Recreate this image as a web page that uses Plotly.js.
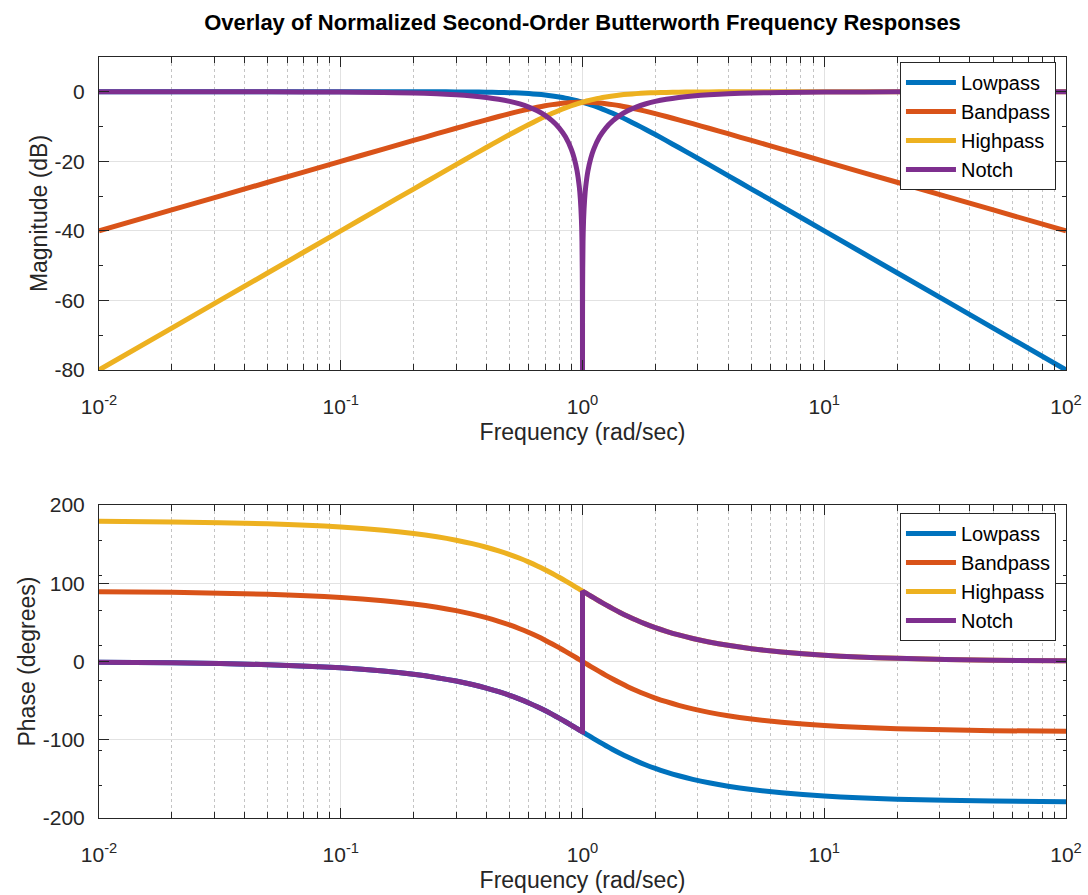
<!DOCTYPE html>
<html>
<head>
<meta charset="utf-8">
<script src="https://cdn.plot.ly/plotly-3.0.1.min.js"></script>
<style>
  html, body { margin: 0; padding: 0; background: #ffffff; }
  #chart { width: 1088px; height: 895px; }
</style>
</head>
<body>
<div id="chart"></div>
<script>
// Frequencies (rad/sec) for lowpass / bandpass / highpass
const freq = [0.01,0.02,0.05,0.1,0.15,0.2,0.25,0.3,0.35,0.4,0.45,0.5,0.55,0.6,0.65,0.7,0.75,0.8,0.85,0.9,0.95,0.98,
  1,
  1.0204,1.0526,1.1111,1.1765,1.25,1.3333,1.4286,1.5385,1.6667,1.8182,2,2.2222,2.5,2.8571,3.3333,4,5,6.6667,10,20,50,100];

// Magnitudes (dB)
const lowpassMag = [0,0,0,0,-0.002,-0.007,-0.017,-0.035,-0.065,-0.11,-0.175,-0.26,-0.38,-0.53,-0.71,-0.93,-1.19,-1.49,-1.82,-2.19,-2.59,-2.84,
  -3.01,
  -3.19,-3.48,-4.02,-4.65,-5.37,-6.19,-7.13,-8.20,-9.40,-10.77,-12.30,-14.05,-16.03,-18.30,-20.95,-24.10,-27.97,-32.96,-40.0,-52.04,-67.96,-80];
const bandpassMag = [-40,-33.98,-26.02,-20.0,-16.48,-13.99,-12.06,-10.49,-9.18,-8.07,-7.11,-6.28,-5.57,-4.97,-4.46,-4.03,-3.69,-3.43,-3.24,-3.11,-3.03,-3.01,
  -3.01,
  -3.01,-3.03,-3.11,-3.24,-3.43,-3.69,-4.03,-4.46,-4.97,-5.57,-6.28,-7.11,-8.07,-9.18,-10.49,-12.06,-13.99,-16.48,-20.0,-26.02,-33.98,-40];
const highpassMag = [-80,-67.96,-52.04,-40.0,-32.96,-27.97,-24.10,-20.95,-18.30,-16.03,-14.05,-12.30,-10.77,-9.40,-8.20,-7.13,-6.19,-5.37,-4.65,-4.02,-3.48,-3.19,
  -3.01,
  -2.84,-2.59,-2.19,-1.82,-1.49,-1.19,-0.93,-0.71,-0.53,-0.38,-0.26,-0.175,-0.11,-0.065,-0.035,-0.017,-0.007,-0.002,0,0,0,0];

// Phases (degrees)
const lowpassPhase = [-0.81,-1.62,-4.05,-8.13,-12.24,-16.42,-20.66,-25.0,-29.42,-33.96,-38.59,-43.31,-48.12,-52.97,-57.86,-62.74,-67.59,-72.35,-77.0,-81.51,-85.85,-88.36,
  -90,
  -91.64,-94.15,-98.49,-103.0,-107.65,-112.41,-117.26,-122.14,-127.03,-131.88,-136.69,-141.41,-146.04,-150.58,-155.0,-159.34,-163.58,-167.76,-171.87,-175.95,-178.38,-179.19];
const bandpassPhase = [89.19,88.38,85.95,81.87,77.76,73.58,69.34,65.0,60.58,56.04,51.41,46.69,41.88,37.03,32.14,27.26,22.41,17.65,13.0,8.49,4.15,1.64,
  0,
  -1.64,-4.15,-8.49,-13.0,-17.65,-22.41,-27.26,-32.14,-37.03,-41.88,-46.69,-51.41,-56.04,-60.58,-65.0,-69.34,-73.58,-77.76,-81.87,-85.95,-88.38,-89.19];
const highpassPhase = [179.19,178.38,175.95,171.87,167.76,163.58,159.34,155.0,150.58,146.04,141.41,136.69,131.88,127.03,122.14,117.26,112.41,107.65,103.0,98.49,94.15,91.64,
  90,
  88.36,85.85,81.51,77.0,72.35,67.59,62.74,57.86,52.97,48.12,43.31,38.59,33.96,29.42,25.0,20.66,16.42,12.24,8.13,4.05,1.62,0.81];

// Notch: denser frequencies around the notch at 1 rad/sec
const notchFreq = [0.01,0.02,0.05,0.1,0.15,0.2,0.25,0.3,0.35,0.4,0.45,0.5,0.55,0.6,0.65,0.7,0.75,0.8,0.85,0.9,0.925,0.95,0.97,0.98,0.99,0.995,0.999,0.9999,
  1,1,
  1.0001,1.001,1.005,1.0101,1.0204,1.0309,1.0526,1.0811,1.1111,1.1765,1.25,1.3333,1.4286,1.5385,1.6667,1.8182,2,2.2222,2.5,2.8571,3.3333,4,5,6.6667,10,20,50,100];
const notchMag = [0,-0.0035,-0.022,-0.087,-0.20,-0.36,-0.58,-0.85,-1.20,-1.62,-2.14,-2.76,-3.51,-4.41,-5.48,-6.78,-8.37,-10.36,-12.96,-16.62,-19.20,-22.81,-27.32,-30.89,-36.95,-42.99,-56.99,-76.99,
  -80,-80,
  -76.99,-56.99,-42.99,-36.95,-30.89,-27.32,-22.81,-19.20,-16.62,-12.96,-10.36,-8.37,-6.78,-5.48,-4.41,-3.51,-2.76,-2.14,-1.62,-1.20,-0.85,-0.58,-0.36,-0.20,-0.087,-0.022,-0.0035,0];
const notchPhase = [-0.81,-1.62,-4.05,-8.13,-12.24,-16.42,-20.66,-25.0,-29.42,-33.96,-38.59,-43.31,-48.12,-52.97,-57.86,-62.74,-67.59,-72.35,-77.0,-81.51,-83.70,-85.85,-87.53,-88.36,-89.19,-89.6,-89.92,-89.99,
  -90,90,
  89.99,89.92,89.6,89.19,88.36,87.53,85.85,83.70,81.51,77.0,72.35,67.59,62.74,57.86,52.97,48.12,43.31,38.59,33.96,29.42,25.0,20.66,16.42,12.24,8.13,4.05,1.62,0.81];

// Series names and colours
const seriesNames = ['Lowpass','Bandpass','Highpass','Notch'];
const seriesColors = ['#0072BD','#D95319','#EDB120','#7E2F8E'];

// Axis tick labels
const xTickVals = [0.01,0.1,1,10,100];
const xTickText = ['10<sup>-2</sup>','10<sup>-1</sup>','10<sup>0</sup>','10<sup>1</sup>','10<sup>2</sup>'];
const magTickVals = [-80,-60,-40,-20,0];
const magTickText = ['-80','-60','-40','-20','0'];
const phaseTickVals = [-200,-100,0,100,200];
const phaseTickText = ['-200','-100','0','100','200'];
const xMinorVals = [];
[0.01,0.1,1,10].forEach(d => { for (let k = 2; k <= 9; k++) xMinorVals.push(+(k*d).toPrecision(3)); });

const FONT = '"Liberation Sans", Arial, Helvetica, sans-serif';
const INK = '#262626';
const LW = 5;

const magX = [freq, freq, freq, notchFreq];
const magY = [lowpassMag, bandpassMag, highpassMag, notchMag];
const phY = [lowpassPhase, bandpassPhase, highpassPhase, notchPhase];

const traces = [];
for (let i = 0; i < 4; i++) {
  traces.push({
    type: 'scatter', mode: 'lines', x: magX[i], y: magY[i],
    name: seriesNames[i], xaxis: 'x', yaxis: 'y', legend: 'legend',
    line: {color: seriesColors[i], width: LW, shape: 'spline', smoothing: 0.8}
  });
}
for (let i = 0; i < 4; i++) {
  traces.push({
    type: 'scatter', mode: 'lines', x: magX[i], y: phY[i],
    name: seriesNames[i], xaxis: 'x2', yaxis: 'y2', legend: 'legend2',
    line: {color: seriesColors[i], width: LW, shape: 'spline', smoothing: 0.8}
  });
}

function xAxis(anchor) {
  return {
    type: 'log', range: [-2, 2], domain: [0, 1], anchor: anchor,
    tickmode: 'array', tickvals: xTickVals, ticktext: xTickText,
    ticks: 'inside', ticklen: 10, tickwidth: 1, tickcolor: INK,
    showline: true, linecolor: INK, linewidth: 1, mirror: 'ticks',
    showgrid: true, gridcolor: '#e2e2e2', gridwidth: 1, zeroline: false,
    minor: {tickmode: 'array', tickvals: xMinorVals, ticks: 'inside', ticklen: 6, tickcolor: INK,
            showgrid: true, gridcolor: '#c4c4c4', griddash: 'dot', gridwidth: 1},
    tickfont: {family: FONT, size: 21, color: INK},
    ticklabelstandoff: 18,
    title: {text: 'Frequency (rad/sec)', font: {family: FONT, size: 23, color: INK}, standoff: 6}
  };
}

function yAxis(domain, anchor, range, tv, tt, minor, title) {
  return {
    domain: domain, anchor: anchor, range: range,
    tickmode: 'array', tickvals: tv, ticktext: tt,
    ticks: 'inside', ticklen: 10, tickcolor: INK,
    showline: true, linecolor: INK, linewidth: 1, mirror: 'ticks',
    showgrid: true, gridcolor: '#e2e2e2', zeroline: false,
    minor: minor,
    tickfont: {family: FONT, size: 21, color: INK},
    ticklabelstandoff: 9,
    title: {text: title, font: {family: FONT, size: 23, color: INK}, standoff: 0}
  };
}

function legendBox(ytop) {
  return {
    x: 0.8283, y: ytop, xanchor: 'left', yanchor: 'top',
    bgcolor: '#ffffff', bordercolor: INK, borderwidth: 1,
    font: {family: FONT, size: 20, color: '#000000'},
    itemwidth: 50, tracegroupgap: 0
  };
}

const layout = {
  width: 1088, height: 895,
  paper_bgcolor: '#ffffff', plot_bgcolor: '#ffffff',
  margin: {l: 99, r: 22, t: 57, b: 77},
  font: {family: FONT, color: INK},
  showlegend: true,
  title: {
    text: '<b>Overlay of Normalized Second-Order Butterworth Frequency Responses</b>',
    font: {family: FONT, size: 22, color: '#000000'},
    x: 0.5, xref: 'paper', xanchor: 'center',
    y: 1 - 22/895, yref: 'container', yanchor: 'middle'
  },
  xaxis: xAxis('y'),
  xaxis2: xAxis('y2'),
  yaxis: yAxis([0.5887, 1], 'x', [-80, 10], magTickVals, magTickText,
    {tick0: 0, dtick: 10, ticks: 'inside', ticklen: 4, tickcolor: INK, showgrid: false},
    'Magnitude (dB)'),
  yaxis2: yAxis([0, 0.4113], 'x2', [-200, 200], phaseTickVals, phaseTickText,
    {tick0: 154.7, dtick: 44.7, ticks: 'inside', ticklen: 3, tickcolor: INK, showgrid: false},
    'Phase (degrees)'),
  legend: legendBox(0.9934),
  legend2: legendBox(0.4008)
};

Plotly.newPlot('chart', traces, layout, {displayModeBar: false, staticPlot: true});
</script>
</body>
</html>
